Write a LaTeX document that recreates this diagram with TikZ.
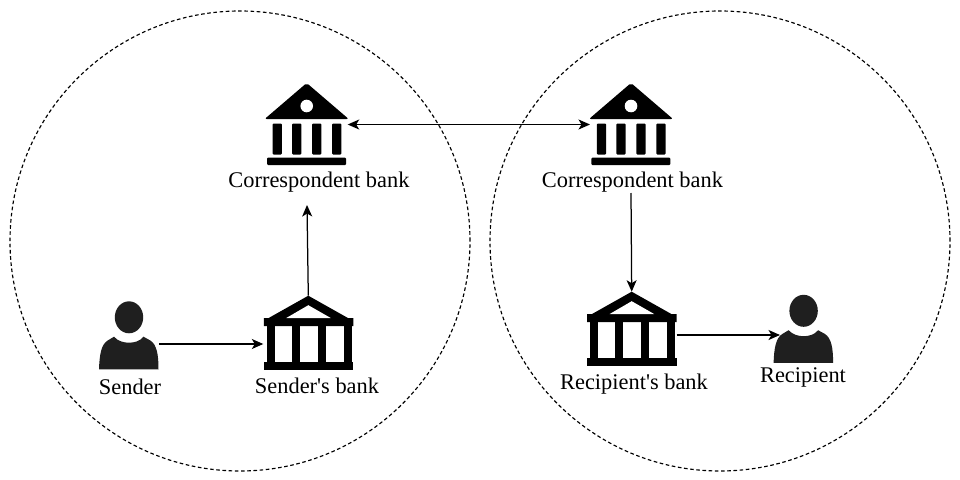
\documentclass[tikz,border=0pt]{standalone}
\usepackage{fontspec}
\setmainfont{Liberation Serif}
\usetikzlibrary{arrows.meta}
\tikzset{
  x=1pt,y=-1pt,
  zone/.style={draw=black,line width=1.15pt,dash pattern=on 3.6pt off 2.6pt},
  link/.style={draw=black,line width=1.25pt,-{Stealth[length=11.5pt,width=10pt,inset=3pt]}},
  twolink/.style={draw=black,line width=1.25pt,{Stealth[length=11.5pt,width=10pt,inset=3pt]}-{Stealth[length=11.5pt,width=10pt,inset=3pt]}},
  lab/.style={inner sep=0pt,font=\fontsize{22.4}{26}\selectfont},
  hitbox/.style={inner sep=0pt,outer sep=0pt,anchor=north},
  bankA/.pic={
    \node[hitbox,minimum width=82pt,minimum height=81pt] (box) at (0,0) {};
    \fill[black,rounded corners=2pt] (0,-1) -- (42,35) -- (-42,35) -- cycle;
    \fill[white] (0,22) circle[radius=6.3];
    \foreach \cx in {-29.5,-10,10,30}
      \fill[black,rounded corners=1pt] (\cx-4.6,39.5) rectangle (\cx+4.6,70.5);
    \fill[black,rounded corners=1pt] (-39.7,73.7) rectangle (39.3,81);
  },
  bankB/.pic={
    \node[hitbox,minimum width=90pt,minimum height=74pt] (box) at (0,0) {};
    \fill[black] (0,0) -- (40,22.5) -- (45,22.5) -- (45,30.5) -- (-44.5,30.5) -- (-44.5,22.5) -- (-40,22.5) -- cycle;
    \fill[white] (0,9.5) -- (22.4,22.3) -- (-22,22.3) -- cycle;
    \foreach \cx in {-37.8,-12.3,13.7,39.2}
      \fill[black] (\cx-4,30) rectangle (\cx+4,67);
    \fill[black] (-44.5,66) rectangle (45,73.8);
  },
  person/.pic={
    \node[inner sep=0pt,outer sep=0pt,minimum width=60pt,minimum height=68pt] (box) at (0,18) {};
    \fill[black!88] (0,0) ellipse[x radius=14.2,y radius=16];
    \fill[black!88] (-30,52) .. controls (-29.5,38) and (-28,27) .. (-21,23)
      -- (-15,19.4) .. controls (-11,24) and (-5,25.4) .. (0,25.4)
      .. controls (5,25.4) and (11,24) .. (14.5,19.4)
      -- (21,23) .. controls (28,27) and (29.5,38) .. (29.5,52) -- cycle;
  },
}
\begin{document}
\begin{tikzpicture}
\useasboundingbox (0,0) rectangle (960,479);
\fill[white] (0,0) rectangle (960,479);
\node[zone,circle,minimum size=460pt,inner sep=0pt] (leftzone) at (240,241) {};
\node[zone,circle,minimum size=460pt,inner sep=0pt] (rightzone) at (720,241) {};
\pic (corrL) at (306.7,84) {bankA};
\pic (corrR) at (631,84) {bankA};
\pic (sbank) at (308.3,295.7) {bankB};
\pic (rbank) at (631.7,291.7) {bankB};
\pic (sender) at (129,317.3) {person};
\pic (recipient) at (803.6,310.8) {person};
\node[lab] (corrLlab) at (319,182.5) {Correspondent bank};
\node[lab] (corrRlab) at (632.5,182.5) {Correspondent bank};
\node[lab] (senderlab) at (130,387) {Sender};
\node[lab] (sbanklab) at (317,386) {Sender\textquotesingle s bank};
\node[lab] (rbanklab) at (634,384) {Recipient\textquotesingle s bank};
\node[lab] (recipientlab) at (803,377) {Recipient};
\coordinate (corrLin) at (307,205);
\coordinate (corrRout) at (631,193);
\coordinate (senderout) at (159,344);
\coordinate (recipientin) at (780,335);
\draw[twolink] (corrLbox.east) -- (corrRbox.west);
\draw[link] (sbankbox.north) -- (corrLin);
\draw[link] (corrRout) -- (rbankbox.north);
\draw[link] (senderout) -- (senderout -| sbankbox.west);
\draw[link] (rbankbox.east |- recipientin) -- (recipientin);
\end{tikzpicture}
\end{document}
